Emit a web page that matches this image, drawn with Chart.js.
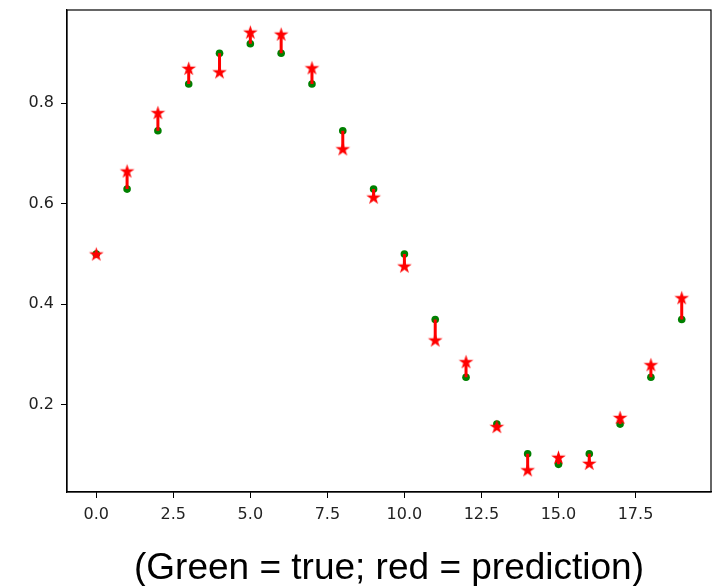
<!DOCTYPE html>
<html>
<head>
<meta charset="utf-8">
<script src="https://cdn.jsdelivr.net/npm/chart.js@4.4.1/dist/chart.umd.min.js"></script>
<style>
  html, body { margin: 0; padding: 0; background: #fff; }
  #wrap { width: 712px; height: 586px; }
</style>
</head>
<body>
<div id="wrap"><canvas id="plot" width="712" height="586"></canvas></div>
<script>
// x positions (time steps)
var steps = [0, 1, 2, 3, 4, 5, 6, 7, 8, 9, 10, 11, 12, 13, 14, 15, 16, 17, 18, 19];
// green dots
var trueVals = [0.500, 0.629, 0.745, 0.838, 0.899, 0.918, 0.899, 0.838, 0.745, 0.629,
                0.500, 0.370, 0.255, 0.162, 0.103, 0.082, 0.103, 0.162, 0.255, 0.370];
// red stars
var predVals = [0.500, 0.665, 0.781, 0.869, 0.862, 0.941, 0.937, 0.870, 0.709, 0.613,
                0.476, 0.329, 0.286, 0.157, 0.071, 0.096, 0.084, 0.175, 0.280, 0.413];
var xTicks = [0, 2.5, 5, 7.5, 10, 12.5, 15, 17.5];
var yTicks = [0.2, 0.4, 0.6, 0.8];
var caption = "(Green = true; red = prediction)";

window.addEventListener("load", function() {
    init();
});

function init() {
    var starImg = makeStar(17, '#ff0000');

    var truePts = steps.map(function(x, i) { return {x: x, y: trueVals[i]}; });
    var predPts = steps.map(function(x, i) { return {x: x, y: predVals[i]}; });
    // error bars: true -> pred, broken by null
    var errPts = [];
    steps.forEach(function(x, i) {
        errPts.push({x: x, y: trueVals[i]});
        errPts.push({x: x, y: predVals[i]});
        errPts.push({x: x, y: null});
    });

    var boxPlugin = {
        id: 'box',
        afterDatasetsDraw: function(chart) {
            var a = chart.chartArea, ctx = chart.ctx;
            ctx.save();
            ctx.strokeStyle = '#000';
            ctx.lineWidth = 1.2;
            ctx.strokeRect(a.left, a.top, a.right - a.left, a.bottom - a.top);
            ctx.restore();
        },
        afterDraw: function(chart) {
            var a = chart.chartArea, ctx = chart.ctx;
            ctx.save();
            ctx.fillStyle = '#000';
            ctx.font = '37px "Liberation Sans", Arial, sans-serif';
            ctx.textAlign = 'center';
            ctx.textBaseline = 'alphabetic';
            ctx.fillText(caption, (a.left + a.right) / 2, 579);
            ctx.restore();
        }
    };

    var tickFont = {family: '"DejaVu Sans", sans-serif', size: 16};

    new Chart(document.getElementById('plot').getContext('2d'), {
        type: 'scatter',
        data: {
            datasets: [{
                label: 'prediction',
                data: predPts,
                pointStyle: starImg,
                pointRadius: 8,
                order: 0
            }, {
                type: 'line',
                label: 'error',
                data: errPts,
                borderColor: '#ff0000',
                borderWidth: 3,
                pointRadius: 0,
                spanGaps: false,
                fill: false,
                order: 1
            }, {
                label: 'true',
                data: truePts,
                backgroundColor: '#008000',
                borderWidth: 0,
                pointRadius: 3.8,
                order: 2
            }]
        },
        options: {
            responsive: false,
            animation: false,
            events: [],
            layout: {autoPadding: false, padding: {top: 10, right: 1, left: 0, bottom: 0}},
            plugins: {legend: {display: false}, tooltip: {enabled: false}},
            scales: {
                x: {
                    type: 'linear',
                    min: -0.95,
                    max: 19.95,
                    afterBuildTicks: function(s) { s.ticks = xTicks.map(function(v) { return {value: v}; }); },
                    afterFit: function(s) { s.height = 94; s.paddingLeft = 0; s.paddingRight = 0; },
                    grid: {drawOnChartArea: false, drawTicks: true, tickLength: 6, color: '#000', lineWidth: 1},
                    border: {display: true, color: '#000', width: 1.2},
                    ticks: {
                        font: tickFont, color: '#222', padding: 7, maxRotation: 0, autoSkip: false,
                        callback: function(v) { return v.toFixed(1); }
                    }
                },
                y: {
                    type: 'linear',
                    min: 0.027,
                    max: 0.985,
                    afterBuildTicks: function(s) { s.ticks = yTicks.map(function(v) { return {value: v}; }); },
                    afterFit: function(s) { s.width = 67; s.paddingTop = 0; s.paddingBottom = 0; },
                    grid: {drawOnChartArea: false, drawTicks: true, tickLength: 6, color: '#000', lineWidth: 1},
                    border: {display: true, color: '#000', width: 1.2},
                    ticks: {
                        font: tickFont, color: '#222', padding: 7,
                        callback: function(v) { return v.toFixed(1); }
                    }
                }
            }
        },
        plugins: [boxPlugin]
    });
}

// five-pointed star like matplotlib's '*' marker
function makeStar(size, color) {
    var c = document.createElement('canvas');
    c.width = size; c.height = size;
    var g = c.getContext('2d');
    var cx = size / 2, cy = size / 2 + 0.6, R = size / 2 - 0.8, r = R * 0.382;
    g.beginPath();
    for (var k = 0; k < 10; k++) {
        var rad = (k % 2 === 0) ? R : r;
        var ang = -Math.PI / 2 + k * Math.PI / 5;
        var px = cx + rad * Math.cos(ang), py = cy + rad * Math.sin(ang);
        if (k === 0) g.moveTo(px, py); else g.lineTo(px, py);
    }
    g.closePath();
    g.fillStyle = color;
    g.fill();
    return c;
}
</script>
</body>
</html>
